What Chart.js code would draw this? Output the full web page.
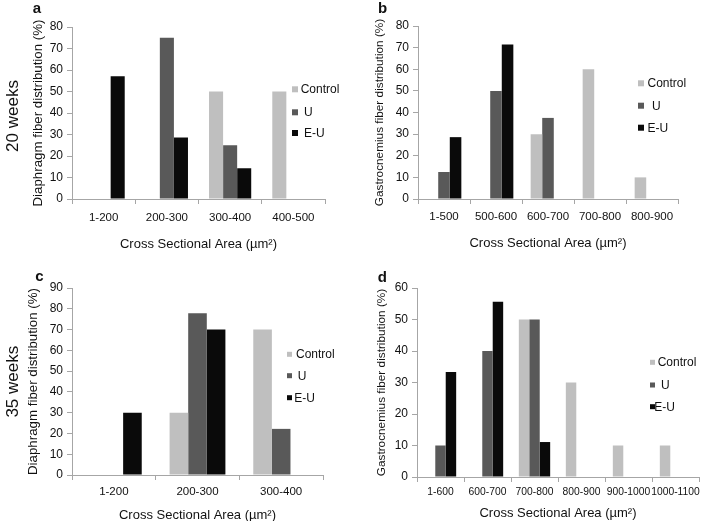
<!DOCTYPE html>
<html><head><meta charset="utf-8">
<script src="https://cdn.jsdelivr.net/npm/chart.js@4/dist/chart.umd.min.js"></script>
<style>
html,body{margin:0;padding:0;background:#fff;overflow:hidden;width:709px;height:521px;}
canvas{position:absolute;}
</style></head><body>
<canvas id="ca" width="350" height="260" style="left:0;top:0;width:350px;height:260px"></canvas>
<canvas id="cb" width="359" height="260" style="left:350px;top:0;width:359px;height:260px"></canvas>
<canvas id="cc" width="350" height="270" style="left:0;top:260px;width:350px;height:270px"></canvas>
<canvas id="cd" width="359" height="270" style="left:350px;top:260px;width:359px;height:270px"></canvas>
<script>
// ---- data ----
const seriesNames = ['Control', 'U', 'E-U'];

const catsA = ['1-200', '200-300', '300-400', '400-500'];
const controlA = [0, 0, 50, 50];
const uA = [0, 75, 25, 0];
const euA = [57.1, 28.6, 14.3, 0];
const yMaxA = 80;

const catsB = ['1-500', '500-600', '600-700', '700-800', '800-900'];
const controlB = [0, 0, 30, 60, 10];
const uB = [12.5, 50, 37.5, 0, 0];
const euB = [28.6, 71.4, 0, 0, 0];
const yMaxB = 80;

const catsC = ['1-200', '200-300', '300-400'];
const controlC = [0, 30, 70];
const uC = [0, 77.8, 22.2];
const euC = [30, 70, 0];
const yMaxC = 90;

const catsD = ['1-600', '600-700', '700-800', '800-900', '900-1000', '1000-1100'];
const controlD = [0, 0, 50, 30, 10, 10];
const uD = [10, 40, 50, 0, 0, 0];
const euD = [33.3, 55.6, 11.1, 0, 0, 0];
const yMaxD = 60;

const yStep = 10;
const xTitle = 'Cross Sectional Area (\u00b5m\u00b2)';
const yTitleDia = 'Diaphragm fiber distribution (%)';
const yTitleGas = 'Gastrocnemius fiber distribution (%)';
const panelLetters = ['a', 'b', 'c', 'd'];
const rowLabels = ['20 weeks', '35 weeks'];

// ---- style ----
const FONT = '"Liberation Sans", Arial, Helvetica, sans-serif';
const seriesColors = ['#bfbfbf', '#595959', '#0a0a0a'];
const axisColor = '#a6a6a6';
Chart.defaults.color = '#111';
Chart.defaults.font.family = FONT;

const overlay = {
  id: 'overlay',
  afterDraw(chart, args, o) {
    const ctx = chart.ctx;
    ctx.save();
    const L = o.legend;
    ctx.font = '12px ' + FONT;
    ctx.textBaseline = 'middle';
    ctx.textAlign = 'left';
    seriesNames.forEach((n, i) => {
      ctx.fillStyle = seriesColors[i];
      ctx.fillRect(L.sqX, L.y[i] - L.sq / 2, L.sq, L.sq);
      ctx.fillStyle = '#111';
      ctx.fillText(n, L.textX[i], L.y[i] + 0.5);
    });
    ctx.font = 'bold 15px ' + FONT;
    ctx.textAlign = 'center';
    ctx.textBaseline = 'alphabetic';
    ctx.fillStyle = '#111';
    ctx.fillText(o.letter, o.letterX, o.letterY);
    if (o.row) {
      ctx.translate(o.rowX, o.rowY);
      ctx.rotate(-Math.PI / 2);
      ctx.font = '17px ' + FONT;
      ctx.textBaseline = 'middle';
      ctx.fillText(o.row, 0, 0);
    }
    ctx.restore();
  }
};

function makePanel(id, cats, c, u, e, yMax, yTitle, g) {
  new Chart(document.getElementById(id), {
    type: 'bar',
    data: {
      labels: cats,
      datasets: [c, u, e].map((d, i) => ({
        label: seriesNames[i], data: d, backgroundColor: seriesColors[i],
        borderWidth: 0, categoryPercentage: 0.667, barPercentage: 1
      }))
    },
    options: {
      responsive: false, animation: false,
      layout: { padding: { left: 0, right: g.padR, top: g.padT, bottom: 0 } },
      plugins: {
        legend: { display: false }, tooltip: { enabled: false },
        overlay: g.overlay
      },
      scales: {
        x: {
          grid: { offset: true, drawOnChartArea: false, drawTicks: true, tickLength: 5, color: axisColor },
          border: { display: true, color: axisColor },
          ticks: { font: { size: g.xTickSize }, padding: g.xTickPad, maxRotation: 0, autoSkip: false, color: '#111' },
          title: { display: true, text: xTitle, font: { size: 13 }, padding: { top: 0, bottom: g.xTitlePad }, color: '#111' },
          afterFit(s) { s.height = g.xH; }
        },
        y: {
          min: 0, max: yMax,
          grid: { drawOnChartArea: false, drawTicks: true, tickLength: 5, color: axisColor },
          border: { display: true, color: axisColor },
          ticks: { stepSize: yStep, font: { size: 12 }, padding: 4, color: '#111' },
          title: { display: true, text: yTitle, font: { size: g.yTitleSize }, padding: { top: g.yTitlePad, bottom: 0 }, color: '#111' },
          afterFit(s) { s.width = g.yW; }
        }
      }
    },
    plugins: [overlay]
  });
}

makePanel('ca', catsA, controlA, uA, euA, yMaxA, yTitleDia, {
  padR: 25, padT: 27, xH: 61, yW: 72, xTickSize: 11.5, xTickPad: 7, xTitlePad: 8, yTitlePad: 30, yTitleSize: 13.3,
  overlay: { legend: { sqX: 292, sq: 6, textX: [300.7, 304, 304], y: [89.3, 112.3, 133] },
    letter: panelLetters[0], letterX: 37, letterY: 13, row: rowLabels[0], rowX: 13.5, rowY: 116 }
});
makePanel('cb', catsB, controlB, uB, euB, yMaxB, yTitleGas, {
  padR: 31, padT: 26, xH: 61, yW: 68, xTickSize: 11.5, xTickPad: 6, xTitlePad: 9, yTitlePad: 23, yTitleSize: 11.8,
  overlay: { legend: { sqX: 288, sq: 6, textX: [297.5, 302, 297.5], y: [83.3, 105.7, 127.7] },
    letter: panelLetters[1], letterX: 32.5, letterY: 13 }
});
makePanel('cc', catsC, controlC, uC, euC, yMaxC, yTitleDia, {
  padR: 27, padT: 28, xH: 55, yW: 72, xTickSize: 11.5, xTickPad: 5, xTitlePad: 7, yTitlePad: 25, yTitleSize: 13.3,
  overlay: { legend: { sqX: 287, sq: 5, textX: [296, 297.7, 294.3], y: [94.3, 115.7, 137.7] },
    letter: panelLetters[2], letterX: 39.5, letterY: 20.7, row: rowLabels[1], rowX: 13.5, rowY: 121.7 }
});
makePanel('cd', catsD, controlD, uD, euD, yMaxD, yTitleGas, {
  padR: 10, padT: 28, xH: 53, yW: 67, xTickSize: 10.3, xTickPad: 4, xTitlePad: 9, yTitlePad: 25, yTitleSize: 11.8,
  overlay: { legend: { sqX: 300, sq: 5, textX: [307.7, 311, 304.3], y: [102.3, 125, 146.7] },
    letter: panelLetters[3], letterX: 32.3, letterY: 21.7 }
});
</script>
</body></html>
